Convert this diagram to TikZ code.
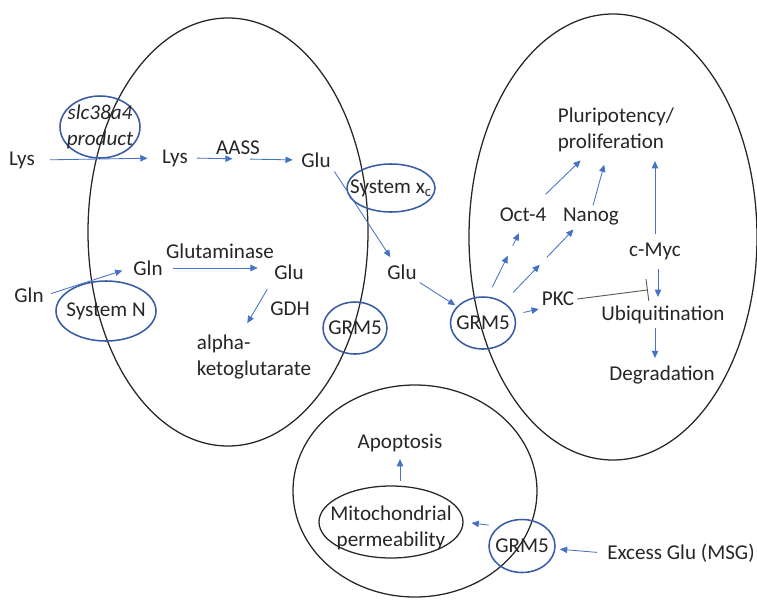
\documentclass[tikz,border=0pt]{standalone}
\usepackage{fontspec}
\setmainfont{Carlito}
\usepackage{tikz}
\usetikzlibrary{positioning, shapes.geometric, arrows.meta, calc}
\definecolor{msblue}{RGB}{68,114,196}
\definecolor{rimblue}{RGB}{55,92,165}
\definecolor{inkgray}{RGB}{38,38,38}

\begin{document}
\begin{tikzpicture}[
  x=0.25mm, y=-0.25mm,
  font=\fontsize{15}{18.5}\selectfont,
  lbl/.style={inner sep=2pt, align=center, text=inkgray},
  cell/.style={ellipse, draw=black!85, line width=0.9pt, inner sep=0pt},
  rcp/.style={ellipse, draw=rimblue, line width=1.1pt, inner sep=0pt,
              label={[lbl]center:#1}},
  arr/.style={-{Triangle[length=1.8mm,width=1.6mm]}, draw=msblue, line width=0.6pt},
  inh/.style={-{Bar[width=5.5mm]}, draw=black!65, line width=0.65pt}
]
\useasboundingbox (0,0) rectangle (757,601);
% cells
\node[cell, minimum width=70mm, minimum height=107mm]   (cellA) at (228,232) {};
\node[cell, minimum width=72mm, minimum height=111.5mm] (cellB) at (613,237) {};
\node[cell, minimum width=61mm, minimum height=53mm]    (cellC) at (415,491) {};
% transporters and receptors
\node[rcp={\textit{slc38a4}\\\textit{product}}, minimum width=20mm, minimum height=15.5mm] (slc) at (100,127) {};
\node[rcp={System N}, minimum width=25mm, minimum height=15mm] (sysN) at (106,311) {};
\node[rcp={System x\textsubscript{c}}, minimum width=22mm, minimum height=12mm] (sysX) at (391,188) {};
\node[rcp=GRM5, minimum width=16mm, minimum height=13mm]      (grmA) at (355,328) {};
\node[rcp=GRM5, minimum width=16.25mm, minimum height=13mm]   (grmB) at (483,323) {};
\node[rcp=GRM5, minimum width=16.5mm, minimum height=13.25mm] (grmC) at (522,546) {};
\node[cell, minimum width=36mm, minimum height=18mm,
      label={[lbl, yshift=-1.5mm]center:Mitochondrial\\permeability}] (mito) at (391,522) {};
% metabolites and factors
\node[lbl] (lysA)   at (22,160)  {Lys};
\node[lbl] (lysB)   at (175,158) {Lys};
\node[lbl] (aass)   at (238,148) {AASS};
\node[lbl] (gluA)   at (316,160) {Glu};
\node[lbl] (gluB)   at (402,272) {Glu};
\node[lbl] (glnA)   at (29,295)  {Gln};
\node[lbl] (glnB)   at (148,268) {Gln};
\node[lbl] (glutam) at (220,251) {Glutaminase};
\node[lbl] (gluC)   at (289,272) {Glu};
\node[lbl] (gdh)    at (290,309) {GDH};
\node[lbl, align=left] (alpha) at (254,357) {alpha-\\ketoglutarate};
\node[lbl] (oct)    at (523,215) {Oct-4};
\node[lbl] (nanog)  at (591,217) {Nanog};
\node[lbl, align=left] (pluri) at (616,130) {Pluripotency/\\proliferation};
\node[lbl] (cmyc)   at (655,251) {c-Myc};
\node[lbl] (pkc)    at (558,299) {PKC};
\node[lbl] (ubiq)   at (663,315) {Ubiquitination};
\node[lbl] (degr)   at (662,375) {Degradation};
\node[lbl] (apop)   at (400,443) {Apoptosis};
\node[lbl] (excess) at (681,553) {Excess Glu (MSG)};
% left cell
\draw[arr, shorten <=3mm, shorten >=2.9mm] (lysA.east) -- (lysB.west);
\path (lysB.east) -- (gluA.west) coordinate[pos=0.47] (lysmid);
\draw[arr, shorten <=1.5mm, shorten >=2.2mm] (lysB.east) -- (lysmid);
\draw[arr, shorten <=2.2mm, shorten >=1.4mm] (lysmid) -- (gluA.west);
\draw[arr, shorten <=0.3mm, shorten >=1.3mm] (gluA.south east) -- (gluB.130);
\draw[arr, shorten >=0.5mm] (gluB.south east) -- (grmB);
\draw[arr, shorten <=1.1mm, shorten >=2.1mm] (glnA.east) -- (glnB.west);
\draw[arr, shorten <=1.9mm, shorten >=3.4mm] (glnB.east) -- (glnB.east -| gluC.west);
\draw[arr, shorten <=2mm, shorten >=2.5mm] (gluC.south west) -- (alpha.115);
% right cell
\path (grmB.80) -- (oct.south) coordinate[pos=0.64] (octmid);
\draw[arr, shorten <=2.6mm, shorten >=1.4mm] (grmB.80) -- (octmid);
\draw[arr, shorten <=1.4mm, shorten >=2.3mm] (octmid) -- (oct.south);
\path (grmB.45) -- (nanog.215) coordinate[pos=0.56] (nanmid);
\draw[arr, shorten <=3.4mm, shorten >=1.3mm] (grmB.45) -- (nanmid);
\draw[arr, shorten <=1.3mm, shorten >=0.3mm] (nanmid) -- (nanog.215);
\draw[arr, shorten <=2.3mm] (grmB.15) -- (pkc.south west);
\draw[arr, shorten <=3.8mm, shorten >=1.9mm] (oct.41) -- (pluri.220);
\draw[arr, shorten >=2.5mm] (nanog.80) -- (pluri.250);
\draw[arr, shorten <=1.4mm, shorten >=1.5mm] (cmyc.north) -- (cmyc.north |- pluri.south);
\coordinate (mycdown) at ($(cmyc.south)+(3,0)$);
\draw[arr, shorten <=1.7mm, shorten >=1.5mm] (mycdown) -- (mycdown |- ubiq.north);
\draw[inh, shorten >=1.8mm] (pkc.east) -- (cmyc.south |- pkc.north);
\draw[arr, shorten <=0.3mm, shorten >=1.2mm] (ubiq.south -| cmyc) -- (degr.north -| cmyc);
% bottom cell
\draw[arr, shorten <=1.8mm, shorten >=1.1mm] (excess.west) -- (grmC);
\draw[arr, shorten <=2.5mm, shorten >=2mm] (grmC.140) -- (mito.east);
\draw[arr, shorten <=1.2mm, shorten >=1mm] (mito.north -| apop) -- (apop.south);
\end{tikzpicture}
\end{document}
